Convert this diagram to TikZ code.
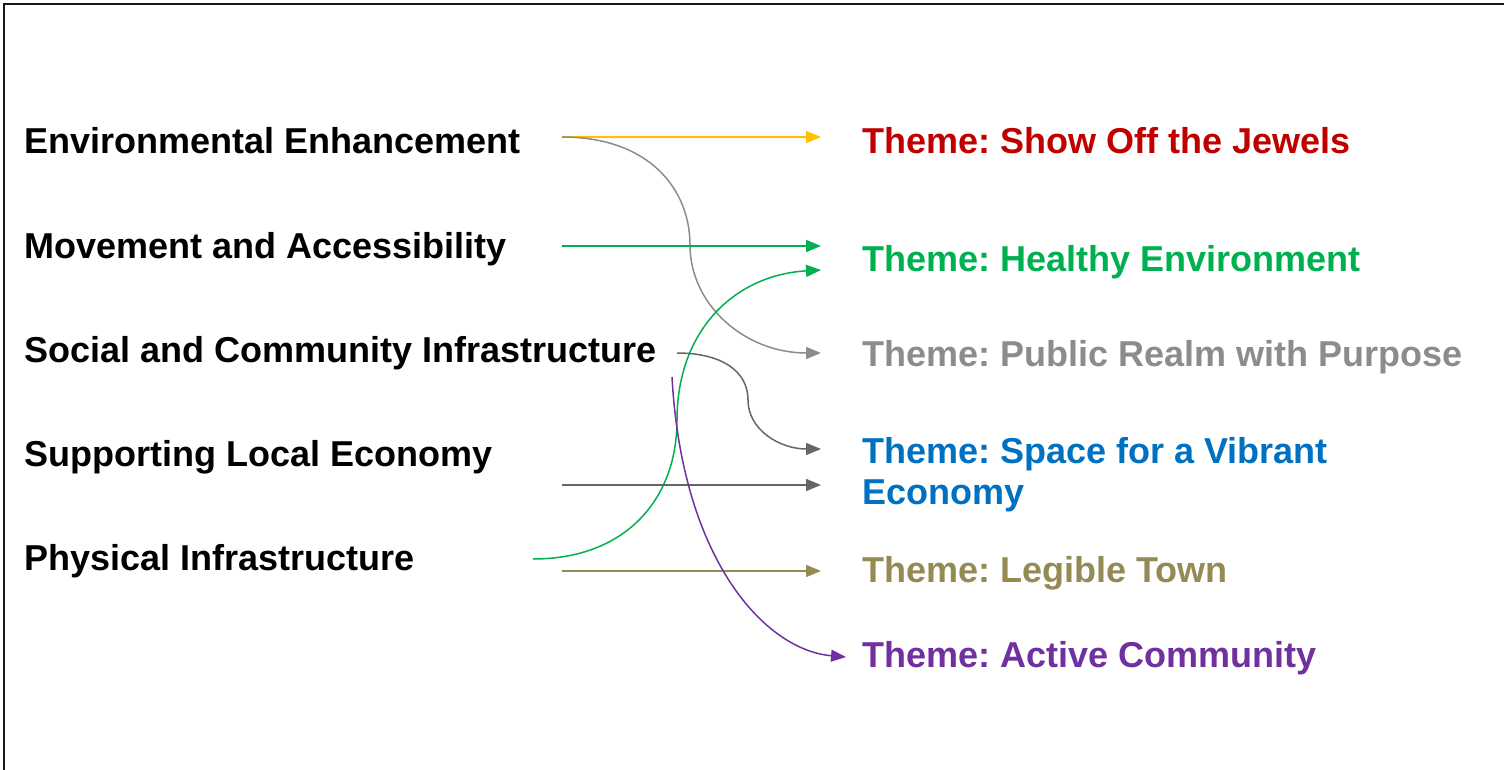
\documentclass[tikz,border=0pt]{standalone}
\usepackage{fontspec}
\setmainfont{Liberation Sans}
\usetikzlibrary{arrows.meta}
\frenchspacing
\definecolor{cred}{HTML}{C00000}
\definecolor{cgreen}{HTML}{00B050}
\definecolor{cgray}{HTML}{8C8C8C}
\definecolor{cdgray}{HTML}{666666}
\definecolor{cblue}{HTML}{0070C0}
\definecolor{colive}{HTML}{948A54}
\definecolor{cpurple}{HTML}{7030A0}
\definecolor{cyellow}{HTML}{FFC000}
\tikzset{
  lbl/.style={anchor=base west, inner sep=0pt, font=\fontsize{36}{41}\selectfont\bfseries\frenchspacing},
  conn/.style={line width=1.5pt, -{Triangle[length=15pt,width=12pt]}},
}
\begin{document}
\begin{tikzpicture}[x=1pt,y=-1pt]
\useasboundingbox (0,0) rectangle (1504,770);
\draw[line width=2.5pt, black!90] (1504,4) -- (4,4) -- (4,770);
% left labels
\node[lbl] (env) at (24,154) {Environmental Enhancement};
\node[lbl] (mov) at (24,258) {Movement and Accessibility};
\node[lbl] (soc) at (24,362) {Social and Community Infrastructure};
\node[lbl] (sup) at (24,466) {Supporting Local Economy};
\node[lbl] (phy) at (24,570) {Physical Infrastructure};
% right labels
\node[lbl, text=cred] (jew) at (862,154) {Theme: Show Off the Jewels};
\node[lbl, text=cgreen] (hea) at (862,271) {Theme: Healthy Environment};
\node[lbl, text=cgray] (pub) at (862,366) {Theme: Public Realm with Purpose};
\node[lbl, text=cblue, align=left] (spa) at (862,504) {Theme: Space for a Vibrant\\Economy};
\node[lbl, text=colive] (leg) at (862,582) {Theme: Legible Town};
\node[lbl, text=cpurple] (act) at (862,667) {Theme: Active Community};
% connector end points
\coordinate (envo) at (562,137);
\coordinate (movo) at (562,246);
\coordinate (soco) at (677,353);
\coordinate (socp) at (672,377);
\coordinate (supo) at (562,485);
\coordinate (phyo) at (533,559);
\coordinate (phyl) at (562,571);
\coordinate (jewi) at (821,137);
\coordinate (heai) at (821,246);
\coordinate (heaj) at (821,270);
\coordinate (pubi) at (821,353);
\coordinate (spai) at (821,449);
\coordinate (spaj) at (821,485);
\coordinate (legi) at (821,571);
\coordinate (acti) at (846,657);
% connectors
\draw[conn, cyellow] (envo) -- (jewi);
\draw[conn, cgray] (envo) .. controls (650,137) and (690,190) .. (690,245) .. controls (690,305) and (745,353) .. (pubi);
\draw[conn, cgreen] (movo) -- (heai);
\draw[conn, cgreen] (phyo) .. controls (625,559) and (677,500) .. (677,420) .. controls (677,330) and (735,275) .. (heaj);
\draw[conn, cdgray] (soco) .. controls (720,353) and (748,370) .. (748,400) .. controls (748,430) and (780,449) .. (spai);
\draw[conn, cdgray] (supo) -- (spaj);
\draw[conn, colive] (phyl) -- (legi);
\draw[conn, cpurple] (socp) .. controls (682,560) and (765,650) .. (acti);
\end{tikzpicture}
\end{document}
